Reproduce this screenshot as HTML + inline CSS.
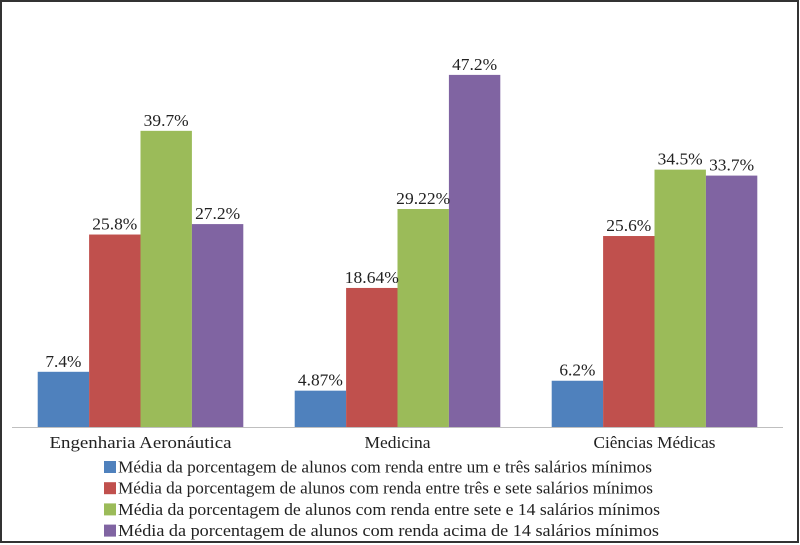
<!DOCTYPE html>
<html><head><meta charset="utf-8"><style>
html,body{margin:0;padding:0;background:#fff}
svg{display:block;font-family:"Liberation Serif","DejaVu Serif",serif}
</style></head><body>
<svg id="c" width="800" height="545">
<rect x="1" y="1" width="797" height="541" fill="#fff" stroke="#333" stroke-width="2"/>
<line x1="12" y1="427.5" x2="783" y2="427.5" stroke="#bfbfbf" stroke-width="1"/>
<g id="bars"></g><g id="labels"></g><g id="legend"></g>
</svg>
<script>
const categories = ["Engenharia Aeronáutica","Medicina","Ciências Médicas"];
const seriesNames = ["Média da porcentagem de alunos com renda entre um e três salários mínimos","Média da porcentagem de alunos com renda entre três e sete salários mínimos","Média da porcentagem de alunos com renda entre sete e 14 salários mínimos","Média da porcentagem de alunos com renda acima de 14 salários mínimos"];
const s1 = [7.4, 4.87, 6.2];
const s2 = [25.8, 18.64, 25.6];
const s3 = [39.7, 29.22, 34.5];
const s4 = [27.2, 47.2, 33.7];
const valueLabels = [["7.4%","4.87%","6.2%"],["25.8%","18.64%","25.6%"],["39.7%","29.22%","34.5%"],["27.2%","47.2%","33.7%"]];
const series = [s1,s2,s3,s4];
const colors = ["#4f81bd","#c0504d","#9bbb59","#8064a2"];
const NS="http://www.w3.org/2000/svg";
const left=12, right=783, base=427, pxPer=7.46, bw=51.4;
const band=(right-left)/categories.length;
function x(ci,si){return left+band*ci+band/2-2*bw+si*bw;}
function y(v){return base-v*pxPer;}
const bars=document.getElementById('bars'), labels=document.getElementById('labels'), legend=document.getElementById('legend');
function mk(t,a){const e=document.createElementNS(NS,t);for(const k in a)e.setAttribute(k,a[k]);return e;}
series.forEach((s,si)=>{s.forEach((v,ci)=>{
 const r=mk('rect',{x:x(ci,si),y:y(v),width:bw,height:base-y(v),fill:colors[si]});
 
 
 bars.appendChild(r);
 const lbl=valueLabels[si][ci];
 const t=mk('text',{x:x(ci,si)+bw/2,y:y(v)-5,'text-anchor':'middle','font-size':'16.5',fill:'#222',textLength:lbl.length*9.0,lengthAdjust:'spacingAndGlyphs'});
 t.textContent=lbl;
 
 
 labels.appendChild(t);
});});
const catWidths=[182,66,122];
categories.forEach((c,ci)=>{
 const t=mk('text',{x:left+band*ci+band/2,y:448,'text-anchor':'middle','font-size':'17',fill:'#222',textLength:catWidths[ci],lengthAdjust:'spacingAndGlyphs'});
 t.textContent=c;
 
 
 labels.appendChild(t);
});
const legWidths=[534,535,542,541];
seriesNames.forEach((n,si)=>{
 const yy=467+si*21.2;
 const g=mk('g',{});
 
 
 const r=mk('rect',{x:104,y:yy-6,width:12,height:12,fill:colors[si]});
 
 
 const t=mk('text',{x:118,y:yy+5.5,'font-size':'17',fill:'#222',textLength:legWidths[si],lengthAdjust:'spacingAndGlyphs'});
 t.textContent=n;
 
 
 g.appendChild(r);g.appendChild(t);legend.appendChild(g);
});
</script>
</body></html>
